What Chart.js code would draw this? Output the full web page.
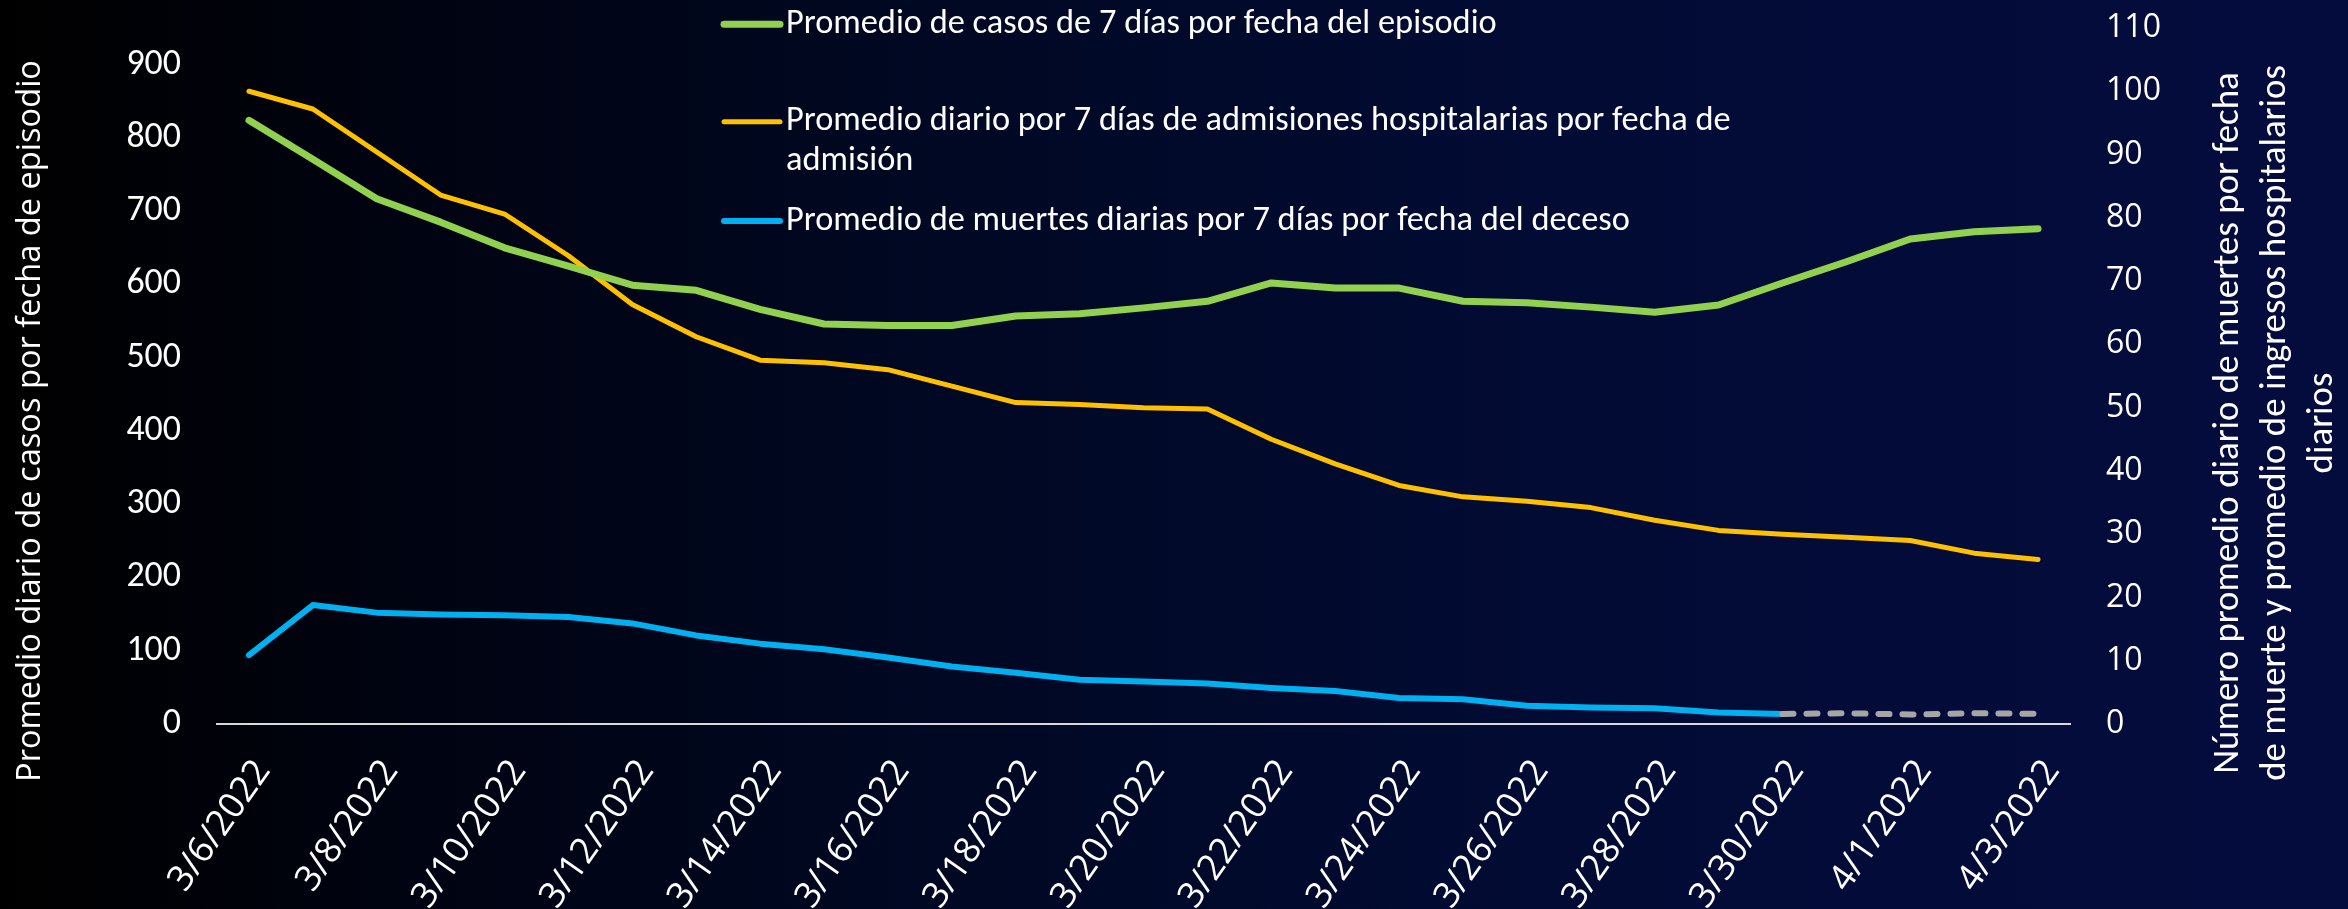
<!DOCTYPE html>
<html>
<head>
<meta charset="utf-8">
<script src="https://cdn.jsdelivr.net/npm/chart.js@4.4.1/dist/chart.umd.min.js"></script>
<style>
html,body{margin:0;padding:0;background:#000;overflow:hidden}
#wrap{width:2348px;height:909px;position:relative}
</style>
</head>
<body>
<div id="wrap"><canvas id="c" width="2348" height="909"></canvas></div>
<script>
// ---------------- data ----------------
const dates = ['3/6/2022','3/7/2022','3/8/2022','3/9/2022','3/10/2022','3/11/2022','3/12/2022','3/13/2022',
  '3/14/2022','3/15/2022','3/16/2022','3/17/2022','3/18/2022','3/19/2022','3/20/2022','3/21/2022',
  '3/22/2022','3/23/2022','3/24/2022','3/25/2022','3/26/2022','3/27/2022','3/28/2022','3/29/2022',
  '3/30/2022','3/31/2022','4/1/2022','4/2/2022','4/3/2022'];

const casos = [824, 771, 717, 685, 650, 625, 599, 592, 566, 546, 544, 544, 557, 560, 568, 577,
  602, 595, 595, 577, 575, 569, 562, 572, 602, 631, 662, 672, 676];

const hospitalizaciones = [100, 97.2, 90.4, 83.6, 80.6, 74, 66.3, 61.2, 57.5, 57.1, 56.0, 53.4, 50.8, 50.5, 50.0, 49.8,
  45.0, 41.1, 37.7, 35.9, 35.2, 34.2, 32.2, 30.6, 30.0, 29.5, 29.0, 27.0, 26.0];

const muertes = [10.9, 18.8, 17.6, 17.3, 17.2, 16.9, 15.9, 14.0, 12.7, 11.8, 10.5, 9.1, 8.1, 7.0, 6.7, 6.4,
  5.7, 5.2, 4.1, 3.9, 2.9, 2.6, 2.5, 1.8, 1.6, 1.7, 1.5, 1.7, 1.6];

const provisionalFrom = 24; // deaths from 3/30/2022 onward shown dashed (incomplete)

const leftTicks = [0, 100, 200, 300, 400, 500, 600, 700, 800, 900];
const rightTicks = [0, 10, 20, 30, 40, 50, 60, 70, 80, 90, 100, 110];

const seriesNames = [
  'Promedio de casos de 7 días por fecha del episodio',
  'Promedio diario por 7 días de admisiones hospitalarias por fecha de admisión',
  'Promedio de muertes diarias por 7 días por fecha del deceso'
];
const leftTitle = 'Promedio diario de casos por fecha de episodio';
const rightTitleLines = ['Número promedio diario de muertes por fecha',
  'de muerte y promedio de ingresos hospitalarios', 'diarios'];

// ---------------- fonts ----------------
const F_CAL = "Carlito, 'Liberation Sans', Arial, sans-serif";
const F_SEG = "'Open Sans', 'DejaVu Sans', sans-serif";
const mctx = document.createElement('canvas').getContext('2d');
function fit(family, text, target) {
  mctx.font = '100px ' + family;
  return 100 * target / mctx.measureText(text).width;
}
const legendSize = fit(F_CAL, seriesNames[0], 711);
const rightTitleSize = fit(F_CAL, rightTitleLines[1], 716);
const leftTickSize = fit(F_CAL, '900', 54.6);
const rightTickSize = fit(F_SEG, '110', 55);
const xTickSize = fit(F_SEG, '4/3/2022', 150);
const leftTitleSize = fit(F_SEG, leftTitle, 722);

// ---------------- plugins ----------------
const bgPlugin = {
  id: 'bg',
  beforeDraw(chart) {
    const ctx = chart.ctx, w = chart.width, h = chart.height;
    const g = ctx.createLinearGradient(0, 0, w, 0);
    g.addColorStop(0, '#000000');
    g.addColorStop(0.15, '#00030f');
    g.addColorStop(0.4, '#000823');
    g.addColorStop(0.65, '#020b33');
    g.addColorStop(1, '#040c3e');
    ctx.save();
    ctx.fillStyle = g;
    ctx.fillRect(0, 0, w, h);
    ctx.restore();
  }
};

function wrapText(ctx, text, maxW) {
  const words = text.split(' ');
  const lines = [];
  let cur = '';
  for (const w of words) {
    const t = cur ? cur + ' ' + w : w;
    if (ctx.measureText(t).width > maxW && cur) { lines.push(cur); cur = w; }
    else cur = t;
  }
  if (cur) lines.push(cur);
  return lines;
}

const decorPlugin = {
  id: 'decor',
  afterDraw(chart) {
    const ctx = chart.ctx;
    ctx.save();
    ctx.fillStyle = '#ffffff';
    // left axis title
    ctx.save();
    ctx.font = leftTitleSize + 'px ' + F_SEG;
    ctx.textAlign = 'center';
    ctx.textBaseline = 'alphabetic';
    ctx.translate(40, 421);
    ctx.rotate(-Math.PI / 2);
    ctx.fillText(leftTitle, 0, 0);
    ctx.restore();
    // right axis title
    ctx.save();
    ctx.font = rightTitleSize + 'px ' + F_CAL;
    ctx.textAlign = 'center';
    ctx.textBaseline = 'alphabetic';
    rightTitleLines.forEach((ln, i) => {
      ctx.save();
      ctx.translate(2238 + i * 47, 423);
      ctx.rotate(-Math.PI / 2);
      ctx.fillText(ln, 0, 0);
      ctx.restore();
    });
    ctx.restore();
    // legend
    const sampleY = [24.3, 121.7, 221];
    const baseY = [33.3, 130, 230];
    ctx.font = legendSize + 'px ' + F_CAL;
    ctx.textAlign = 'left';
    ctx.textBaseline = 'alphabetic';
    chart.data.datasets.forEach((ds, i) => {
      ctx.save();
      ctx.strokeStyle = ds.borderColor;
      ctx.lineWidth = ds.borderWidth;
      ctx.lineCap = 'round';
      ctx.beginPath();
      ctx.moveTo(724, sampleY[i]);
      ctx.lineTo(780, sampleY[i]);
      ctx.stroke();
      ctx.restore();
      ctx.fillStyle = '#ffffff';
      const lines = wrapText(ctx, ds.label, 1000);
      lines.forEach((ln, j) => ctx.fillText(ln, 786, baseY[i] + j * 40));
    });
    ctx.restore();
  }
};

// ---------------- chart ----------------
const WHITE = '#ffffff';
new Chart(document.getElementById('c'), {
  type: 'line',
  data: {
    labels: dates,
    datasets: [
      { label: seriesNames[0], data: casos, yAxisID: 'yL', borderColor: '#92d050', borderWidth: 7,
        pointRadius: 0, tension: 0, borderCapStyle: 'round', borderJoinStyle: 'round', fill: false },
      { label: seriesNames[1], data: hospitalizaciones, yAxisID: 'yR', borderColor: '#ffc000', borderWidth: 5,
        pointRadius: 0, tension: 0, borderCapStyle: 'round', borderJoinStyle: 'round', fill: false },
      { label: seriesNames[2], data: muertes, yAxisID: 'yR', borderColor: '#00b0f0', borderWidth: 6,
        pointRadius: 0, tension: 0, borderCapStyle: 'round', borderJoinStyle: 'round', fill: false,
        segment: {
          borderColor: c => c.p0DataIndex >= provisionalFrom ? '#a6a6a6' : undefined,
          borderDash: c => c.p0DataIndex >= provisionalFrom ? [11, 13] : undefined
        } }
    ]
  },
  options: {
    responsive: false,
    animation: false,
    devicePixelRatio: 1,
    layout: { padding: { top: 28, left: 0, right: 0, bottom: 0 } },
    plugins: { legend: { display: false }, tooltip: { enabled: false } },
    scales: {
      x: {
        type: 'category',
        offset: true,
        grid: { display: false, drawTicks: false },
        border: { display: true, color: '#d9d9d9', width: 2 },
        ticks: {
          color: WHITE,
          font: { family: F_SEG, size: xTickSize },
          autoSkip: false,
          minRotation: 55,
          maxRotation: 55,
          padding: 28,
          labelOffset: 14,
          callback: (v, i) => (i % 2 === 0 ? dates[i] : '')
        },
        afterFit: s => { s.height = 185; s.paddingLeft = 0; s.paddingRight = 0; }
      },
      yL: {
        type: 'linear',
        position: 'left',
        min: 0,
        max: 950,
        grid: { display: false, drawTicks: false },
        border: { display: false },
        ticks: { color: WHITE, padding: 36, font: { family: F_CAL, size: leftTickSize } },
        afterBuildTicks: s => { s.ticks = leftTicks.map(v => ({ value: v })); },
        afterFit: s => { s.width = 217; s.paddingTop = 0; s.paddingBottom = 0; }
      },
      yR: {
        type: 'linear',
        position: 'right',
        min: 0,
        max: 110,
        grid: { display: false, drawTicks: false },
        border: { display: false },
        ticks: { color: WHITE, padding: 36, font: { family: F_SEG, size: rightTickSize } },
        afterBuildTicks: s => { s.ticks = rightTicks.map(v => ({ value: v })); },
        afterFit: s => { s.width = 278; s.paddingTop = 0; s.paddingBottom = 0; }
      }
    }
  },
  plugins: [bgPlugin, decorPlugin]
});
</script>
</body>
</html>
